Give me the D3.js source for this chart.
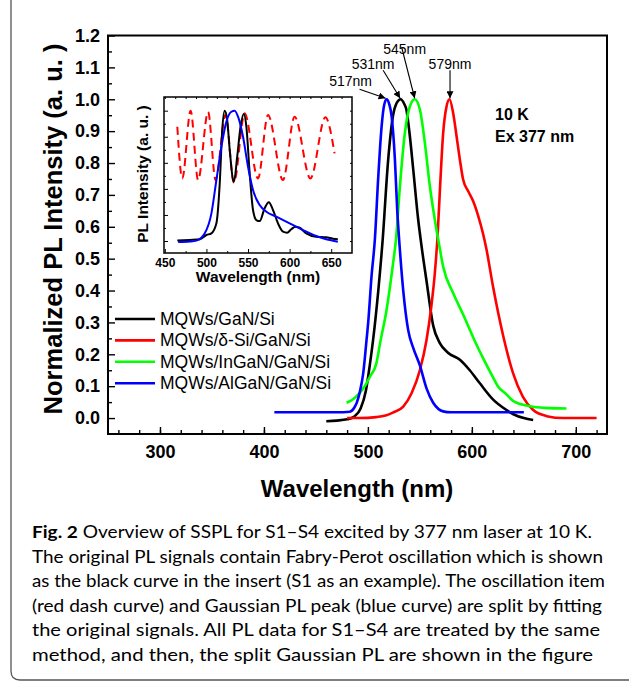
<!DOCTYPE html>
<html>
<head>
<meta charset="utf-8">
<script src="https://cdn.jsdelivr.net/npm/d3@7"></script>
<style>
  body { margin: 0; background: #fff; }
  svg { display: block; }
</style>
</head>
<body>
<svg id="fig" width="629" height="681"></svg>
<script>
// ---- data ----
var seriesNames = ["MQWs/GaN/Si", "MQWs/δ-Si/GaN/Si", "MQWs/InGaN/GaN/Si", "MQWs/AlGaN/GaN/Si"];
var seriesColors = ["#000000", "#ff0000", "#00ff00", "#0000ff"];

// [wavelength nm, normalized intensity]
var gaNSi = [[460,-0.01],[470,-0.008],[480,-0.004],[487,0.005],[493,0.03],[498,0.085],[502,0.17],[505,0.245],
  [510,0.40],[514,0.55],[519.5,0.81],[524,0.945],[528,0.99],[531.5,1.0],[535,0.985],[537,0.968],[540,0.895],
  [543.6,0.78],[548.4,0.622],[552,0.53],[556.4,0.43],[562.8,0.29],[569.2,0.235],[577,0.205],[588.5,0.183],
  [598,0.15],[607.7,0.109],[620.5,0.058],[633,0.026],[640,0.012],[650,0.0],[659,-0.006]];
var deltaSi = [[480,0],[492,0],[508,0.003],[517,0.008],[524,0.017],[534,0.036],[542,0.078],[550,0.15],
  [556.4,0.245],[561,0.35],[564.4,0.455],[567,0.57],[569.5,0.73],[572.4,0.894],[575.7,0.978],[578.5,1.0],
  [582,0.957],[585.3,0.884],[588.5,0.81],[591.6,0.748],[596.4,0.712],[601.3,0.68],[606,0.635],[611,0.575],
  [614,0.53],[620.5,0.41],[630,0.26],[639.7,0.14],[649,0.067],[659,0.025],[672,0.006],[688,0],[720,0]];
var inGaN = [[479.5,0.048],[486,0.06],[492,0.078],[497,0.1],[502,0.13],[508,0.17],[512,0.24],[518,0.34],
  [524,0.48],[527,0.56],[530.8,0.727],[535.6,0.895],[540.4,0.978],[545,1.0],[550,0.968],[554.8,0.863],
  [559.6,0.727],[564.4,0.622],[569,0.535],[572.4,0.475],[582,0.392],[591.6,0.325],[604.5,0.23],[612,0.18],
  [620,0.13],[625,0.1],[633,0.075],[640,0.053],[656,0.037],[670,0.032],[691,0.03]];
var alGaN = [[410,0.018],[440,0.018],[470,0.018],[482.7,0.02],[487,0.033],[489.5,0.05],[492.3,0.083],
  [495.5,0.14],[498.7,0.245],[500.3,0.3],[503.5,0.445],[506.7,0.56],[510,0.758],[513.2,0.915],[515.5,0.98],
  [518,1.0],[520.5,0.985],[522.8,0.947],[526,0.81],[528.2,0.653],[530.5,0.54],[534,0.40],[538.8,0.275],
  [543.6,0.22],[550,0.165],[556.4,0.093],[562.8,0.048],[568,0.028],[572.4,0.021],[580,0.018],[620,0.018],[650,0.018]];
var mainSeries = [gaNSi, deltaSi, inGaN, alGaN];

var peaks = [517, 531, 545, 579];
var peakLabels = ["517nm", "531nm", "545nm", "579nm"];

// inset: original S1 signal, Gaussian fit, oscillation term
var insetRaw = [[465,0.003],[480,0.008],[492,0.013],[500,0.046],[506,0.059],[512,0.136],[516,0.442],[519,0.852],
  [522,1.0],[525,0.928],[528,0.698],[533,0.455],[537,0.647],[541,0.877],[545,0.974],[548,0.877],[552,0.519],
  [556,0.238],[560,0.161],[564,0.153],[570,0.251],[575,0.297],[580,0.238],[586,0.136],[592,0.072],[597,0.064],
  [602,0.09],[607,0.11],[612,0.102],[620,0.059],[632,0.033],[644,0.028],[652,0.018],[658,0.013]];
var insetGauss = [[466,-0.008],[480,-0.004],[488,0.003],[498,0.059],[506,0.212],[512,0.468],[518,0.724],
  [524,0.916],[530,0.992],[534,1.0],[538,0.954],[544,0.8],[550,0.57],[556,0.391],[564,0.276],[572,0.225],
  [584,0.187],[600,0.136],[616,0.084],[632,0.038],[644,0.013],[658,-0.005]];
var insetOsc = [[465,0.877],[471,0.48],[481,1.0],[490,0.468],[502,0.99],[511,0.468],[523,0.967],[533,0.448],
  [546,0.98],[562,0.48],[574,0.967],[592,0.468],[606,0.954],[625,0.48],[643,0.949],[654,0.673]];

var xMajor = [300, 400, 500, 600, 700];
var xMinor = d3.range(260, 730, 20);
var yMajor = d3.range(0, 1.21, 0.1);
var yMinor = d3.range(0.05, 1.2, 0.1);
var insetXTicks = [450, 500, 550, 600, 650];

var caption = [
  "The original PL signals contain Fabry-Perot oscillation which is shown",
  "as the black curve in the insert (S1 as an example). The oscillation item",
  "(red dash curve) and Gaussian PL peak (blue curve) are split by fitting",
  "the original signals. All PL data for S1\u2013S4 are treated by the same",
  "method, and then, the split Gaussian PL are shown in the figure"
];

// ---- drawing ----
var svg = d3.select("#fig");
var font = "'Liberation Sans', Arial, sans-serif";

// outer figure border (left and bottom, rounded corner)
svg.append("path")
  .attr("d", "M11,0 V671 Q11,680 20,680 H629")
  .attr("fill", "none").attr("stroke", "#555").attr("stroke-width", 1.3);

var x = d3.scaleLinear().domain([250, 730]).range([108, 607]);
var y = d3.scaleLinear().domain([-0.05, 1.2]).range([434, 35.5]);

function styleAxis(g, size) {
  g.select(".domain").remove();
  g.selectAll("line").attr("stroke", "#000").attr("stroke-width", 1.4);
  g.selectAll("text").attr("fill", "#000").style("font-family", font)
    .style("font-weight", "bold").style("font-size", size + "px");
}

// axes with inward ticks
svg.append("g").attr("transform", "translate(0,434)")
  .call(d3.axisBottom(x).tickValues(xMinor).tickSize(-4).tickFormat(""))
  .call(styleAxis, 18);
svg.append("g").attr("transform", "translate(0,434)")
  .call(d3.axisBottom(x).tickValues(xMajor).tickSize(-7).tickPadding(11))
  .call(styleAxis, 18);
svg.append("g").attr("transform", "translate(108,0)")
  .call(d3.axisLeft(y).tickValues(yMinor).tickSize(-4).tickFormat(""))
  .call(styleAxis, 18);
svg.append("g").attr("transform", "translate(108,0)")
  .call(d3.axisLeft(y).tickValues(yMajor).tickSize(-7).tickPadding(8).tickFormat(d3.format(".1f")))
  .call(styleAxis, 18);

svg.append("rect")
  .attr("x", 108).attr("y", 35.5).attr("width", 607 - 108).attr("height", 434 - 35.5)
  .attr("fill", "none").attr("stroke", "#000").attr("stroke-width", 2);

// axis titles
svg.append("text")
  .attr("x", 357).attr("y", 497).attr("text-anchor", "middle")
  .style("font-family", font).style("font-weight", "bold").style("font-size", "24px")
  .text("Wavelength (nm)");
svg.append("text")
  .attr("transform", "translate(62,229) rotate(-90)").attr("text-anchor", "middle")
  .style("font-family", font).style("font-weight", "bold").style("font-size", "25.5px")
  .text("Normalized PL Intensity (a. u. )");

// curves
var line = d3.line()
  .x(function(d) { return x(d[0]); })
  .y(function(d) { return y(d[1]); })
  .curve(d3.curveMonotoneX);

svg.append("g").selectAll("path")
  .data(mainSeries)
  .enter().append("path")
  .attr("d", line)
  .attr("fill", "none")
  .attr("stroke", function(d, i) { return seriesColors[i]; })
  .attr("stroke-width", 2.6)
  .attr("stroke-linejoin", "round");

// peak annotations
var labelOff = [[-35, -12], [-27, -29], [-10, -44], [0, -29]];
var arrowOff = [[-26, -9], [-17, -28], [-13, -51], [0, -28]];
svg.append("defs").append("marker")
  .attr("id", "arrow").attr("viewBox", "0 0 10 10")
  .attr("refX", 10).attr("refY", 5)
  .attr("markerWidth", 7).attr("markerHeight", 7)
  .attr("markerUnits", "userSpaceOnUse")
  .attr("orient", "auto")
  .append("path").attr("d", "M0,0 L10,5 L0,10 z").attr("fill", "#000");

peaks.forEach(function(p, i) {
  var tx = x(p), ty = y(1.0) - 1;
  svg.append("line")
    .attr("x1", tx + arrowOff[i][0]).attr("y1", ty + arrowOff[i][1])
    .attr("x2", tx).attr("y2", ty)
    .attr("stroke", "#000").attr("stroke-width", 1.1)
    .attr("marker-end", "url(#arrow)");
  svg.append("text")
    .attr("x", tx + labelOff[i][0]).attr("y", ty + labelOff[i][1])
    .attr("text-anchor", "middle")
    .style("font-family", font).style("font-size", "14px")
    .text(peakLabels[i]);
});

// conditions
svg.append("text").attr("x", 495).attr("y", 120)
  .style("font-family", font).style("font-weight", "bold").style("font-size", "16px")
  .text("10 K");
svg.append("text").attr("x", 495).attr("y", 142)
  .style("font-family", font).style("font-weight", "bold").style("font-size", "16px")
  .text("Ex 377 nm");

// legend
var legend = svg.append("g");
seriesNames.forEach(function(name, i) {
  var ly = 319 + i * 21.4;
  legend.append("line")
    .attr("x1", 115).attr("x2", 155).attr("y1", ly).attr("y2", ly)
    .attr("stroke", seriesColors[i]).attr("stroke-width", 2.6);
  legend.append("text")
    .attr("x", 160).attr("y", ly + 6)
    .style("font-family", font).style("font-size", "17.5px")
    .text(name);
});

// ---- inset ----
var ix = d3.scaleLinear().domain([449, 675]).range([164, 352]);
var iy = d3.scaleLinear().domain([-0.092, 1.105]).range([253, 97]);
var inset = svg.append("g");

inset.append("rect")
  .attr("x", 164).attr("y", 97).attr("width", 352 - 164).attr("height", 253 - 97)
  .attr("fill", "#fff");

var iline = d3.line()
  .x(function(d) { return ix(d[0]); })
  .y(function(d) { return iy(d[1]); })
  .curve(d3.curveMonotoneX);

inset.append("path").attr("d", iline(insetOsc))
  .attr("fill", "none").attr("stroke", "#ff0000").attr("stroke-width", 2)
  .attr("stroke-dasharray", "8,5");
inset.append("path").attr("d", iline(insetRaw))
  .attr("fill", "none").attr("stroke", "#000").attr("stroke-width", 2);
inset.append("path").attr("d", iline(insetGauss))
  .attr("fill", "none").attr("stroke", "#0000ff").attr("stroke-width", 2);

inset.append("g").attr("transform", "translate(0,253)")
  .call(d3.axisBottom(ix).tickValues(insetXTicks).tickSize(-4).tickPadding(5))
  .call(styleAxis, 12);
inset.append("g").attr("transform", "translate(0,253)")
  .call(d3.axisBottom(ix).tickValues(d3.range(475, 675, 50)).tickSize(-2).tickFormat(""))
  .call(styleAxis, 12);
inset.append("g").attr("transform", "translate(164,0)")
  .call(d3.axisLeft(iy).tickValues(d3.range(0, 1.01, 0.2)).tickSize(-4).tickFormat(""))
  .call(styleAxis, 12);
inset.append("g").attr("transform", "translate(164,0)")
  .call(d3.axisLeft(iy).tickValues(d3.range(0.1, 1.0, 0.2)).tickSize(-2).tickFormat(""))
  .call(styleAxis, 12);
inset.append("g").attr("transform", "translate(0,97)")
  .call(d3.axisTop(ix).tickValues(d3.range(450, 675, 12.5)).tickSize(-2).tickFormat(""))
  .call(styleAxis, 12);
inset.append("g").attr("transform", "translate(352,0)")
  .call(d3.axisRight(iy).tickValues(d3.range(0, 1.1, 0.1)).tickSize(-2).tickFormat(""))
  .call(styleAxis, 12);
inset.selectAll("line").attr("stroke-width", 1);

inset.append("rect")
  .attr("x", 164).attr("y", 97).attr("width", 352 - 164).attr("height", 253 - 97)
  .attr("fill", "none").attr("stroke", "#000").attr("stroke-width", 1.5);

inset.append("text")
  .attr("x", 258).attr("y", 282).attr("text-anchor", "middle")
  .style("font-family", font).style("font-weight", "bold").style("font-size", "15.5px")
  .text("Wavelength (nm)");
inset.append("text")
  .attr("transform", "translate(148,174) rotate(-90)").attr("text-anchor", "middle")
  .style("font-family", font).style("font-weight", "bold").style("font-size", "15.5px")
  .text("PL Intensity (a. u. )");

// ---- caption ----
var capFont = "Lato, 'Open Sans', sans-serif";
var capWidths = [571, 573, 570, 568, 561];
var first = svg.append("text").attr("x", 32).attr("y", 538)
  .style("font-family", capFont).style("font-size", "17.5px")
  .attr("textLength", 560).attr("lengthAdjust", "spacingAndGlyphs");
first.append("tspan").style("font-weight", "bold").text("Fig. 2");
first.append("tspan").text(" Overview of SSPL for S1\u2013S4 excited by 377 nm laser at 10 K.");
caption.forEach(function(t, i) {
  svg.append("text")
    .attr("x", 32).attr("y", 538 + (i + 1) * 24.6)
    .style("font-family", capFont).style("font-size", "17.5px")
    .attr("textLength", capWidths[i]).attr("lengthAdjust", "spacingAndGlyphs")
    .text(t);
});
</script>
</body>
</html>
